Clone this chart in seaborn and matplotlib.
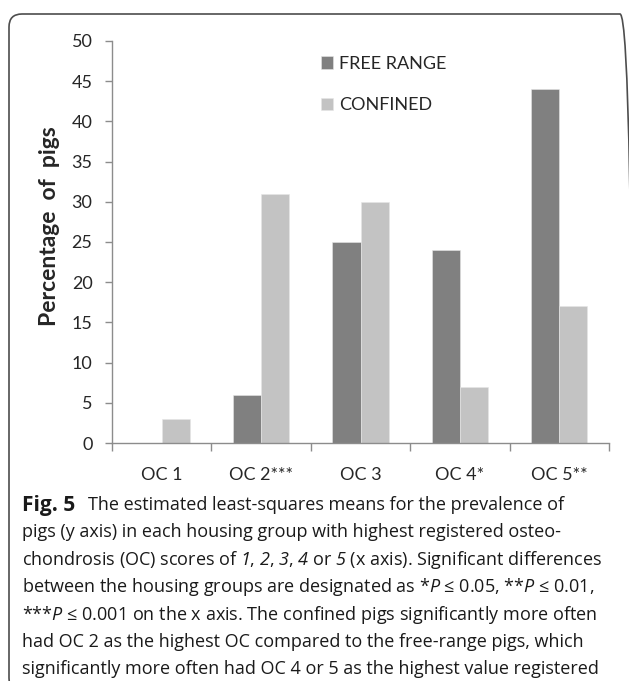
import pandas as pd
import matplotlib
matplotlib.use("Agg")
import matplotlib.pyplot as plt
import seaborn as sns
from matplotlib.patches import FancyBboxPatch

# Data
scores = ["OC 1", "OC 2***", "OC 3", "OC 4*", "OC 5**"]
free_range = [0, 6, 25, 24, 44]
confined = [3, 31, 30, 7, 17]
groups = ["FREE RANGE", "CONFINED"]
colors = ["#808080", "#c3c3c3"]
y_ticks = [0, 5, 10, 15, 20, 25, 30, 35, 40, 45, 50]

caption_head = "Fig. 5"
caption_lines = [
    "The estimated least-squares means for the prevalence of",
    "pigs (y axis) in each housing group with highest registered osteo-",
    r"chondrosis (OC) scores of $\mathsf{1}$, $\mathsf{2}$, $\mathsf{3}$, $\mathsf{4}$ or $\mathsf{5}$ (x axis). Significant differences",
    r"between the housing groups are designated as *$\mathsf{P}$ ≤ 0.05, **$\mathsf{P}$ ≤ 0.01,",
    r"***$\mathsf{P}$ ≤ 0.001 on the x axis. The confined pigs significantly more often",
    "had OC 2 as the highest OC compared to the free-range pigs, which",
    "significantly more often had OC 4 or 5 as the highest value registered",
]


def build_frame():
    rows = []
    for s, f, c in zip(scores, free_range, confined):
        rows.append({"score": s, "pct": f, "housing": groups[0]})
        rows.append({"score": s, "pct": c, "housing": groups[1]})
    return pd.DataFrame(rows)


def main():
    sns.set_style("white")
    plt.rcParams["font.family"] = ["Lato", "DejaVu Sans"]
    plt.rcParams["mathtext.fontset"] = "custom"
    plt.rcParams["mathtext.rm"] = "Open Sans"
    plt.rcParams["mathtext.sf"] = "Open Sans:italic"
    plt.rcParams["mathtext.it"] = "Open Sans:italic"
    plt.rcParams["mathtext.bf"] = "Open Sans:bold"

    W, H = 629, 681
    fig = plt.figure(figsize=(W / 100, H / 100), dpi=100)
    ax = fig.add_axes([112 / W, 1 - 443 / H, 497 / W, 402 / H])

    df = build_frame()
    sns.barplot(data=df, x="score", y="pct", hue="housing", order=scores,
                hue_order=groups, palette=colors, saturation=1, width=0.566,
                edgecolor="#e6e6e6", linewidth=0.4, ax=ax)

    ax.set_xlim(-0.5, 4.5)
    ax.set_ylim(0, 50)
    ax.set_yticks(y_ticks)
    ax.set_xlabel("")
    ax.set_ylabel("Percentage  of  pigs", fontsize=16.5, fontweight="bold")
    ax.yaxis.set_label_coords(-0.105, 0.54)

    for side in ["top", "right"]:
        ax.spines[side].set_visible(False)
    for side in ["left", "bottom"]:
        ax.spines[side].set_color("#8c8c8c")
        ax.spines[side].set_linewidth(1.0)

    ax.tick_params(axis="y", which="major", left=True, length=5, width=1,
                   color="#8c8c8c", labelsize=13, pad=9)
    ax.tick_params(axis="x", which="major", bottom=False, labelsize=13, pad=14)
    ax.set_xticks([-0.5, 0.5, 1.5, 2.5, 3.5, 4.5], minor=True)
    ax.tick_params(axis="x", which="minor", bottom=True, length=6, width=1,
                   color="#8c8c8c", direction="out")

    handles, labels = ax.get_legend_handles_labels()
    ax.legend(handles, labels, loc="upper left", bbox_to_anchor=(0.42, 0.963),
              frameon=False, fontsize=13, handlelength=0.67, handleheight=0.67,
              handletextpad=0.35, labelspacing=1.4, borderpad=0, borderaxespad=0)

    # caption below the chart
    y0 = 505
    fig.text(22 / W, 1 - y0 / H, caption_head, fontsize=15, fontweight="bold",
             family=["Open Sans", "DejaVu Sans"], va="center", ha="left",
             color="#1a1a1a")
    for i, line in enumerate(caption_lines):
        x = 88 if i == 0 else 22
        fig.text(x / W, 1 - (y0 + i * 27.4) / H, line, fontsize=13.0,
                 family=["Open Sans", "DejaVu Sans"], va="center", ha="left",
                 color="#1a1a1a")

    # rounded frame around the figure (open at the bottom edge)
    box = FancyBboxPatch((0.09, -0.1), 6.24, 6.67 + 0.1,
                         boxstyle="round,pad=0,rounding_size=0.13",
                         transform=fig.dpi_scale_trans, fill=False,
                         edgecolor="#4d4d4d", linewidth=1.2)
    fig.patches.append(box)

    fig.savefig("out.png", dpi=100)


if __name__ == "__main__":
    main()
